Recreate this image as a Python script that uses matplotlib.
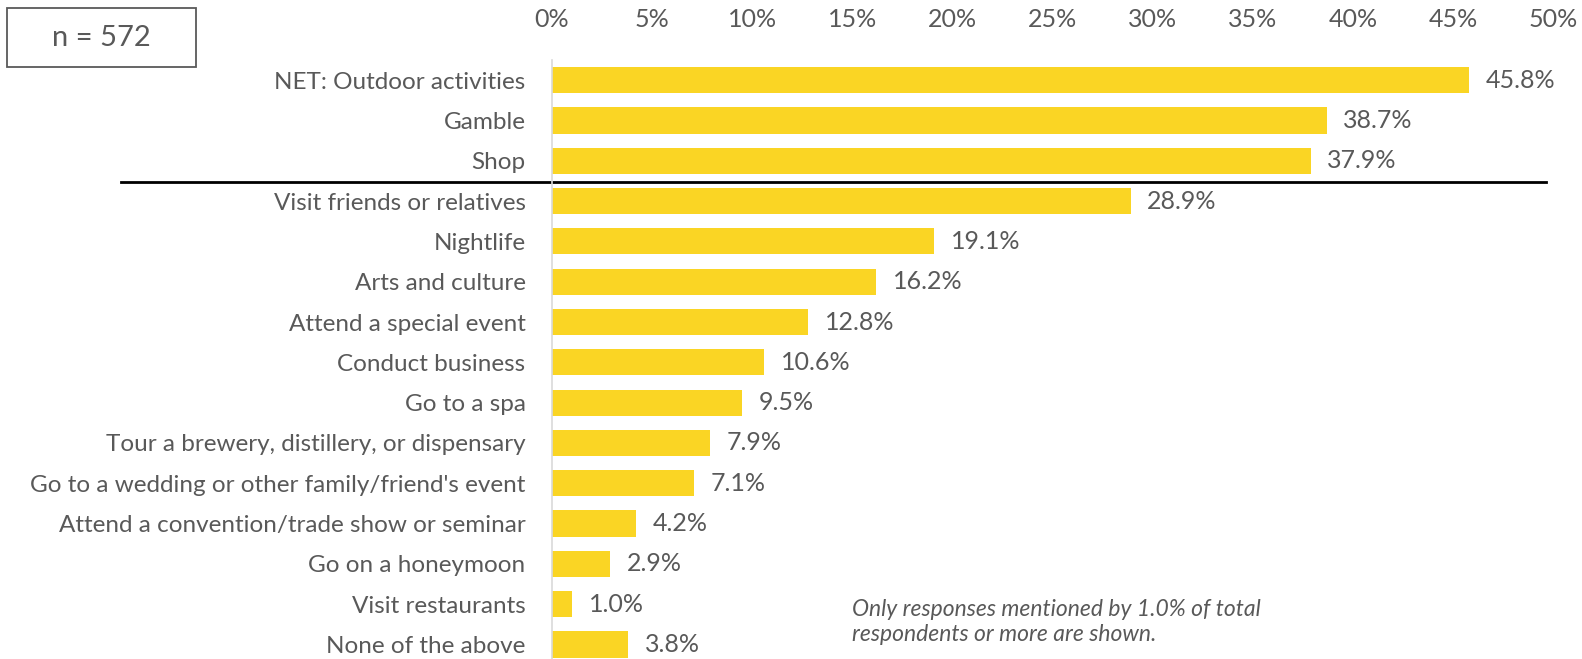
# Reasons for visiting - horizontal bar chart
import matplotlib
matplotlib.use("Agg")
import matplotlib.pyplot as plt
from matplotlib.patches import Rectangle
from matplotlib.transforms import blended_transform_factory

# Data
categories = [
    "NET: Outdoor activities",
    "Gamble",
    "Shop",
    "Visit friends or relatives",
    "Nightlife",
    "Arts and culture",
    "Attend a special event",
    "Conduct business",
    "Go to a spa",
    "Tour a brewery, distillery, or dispensary",
    "Go to a wedding or other family/friend's event",
    "Attend a convention/trade show or seminar",
    "Go on a honeymoon",
    "Visit restaurants",
    "None of the above",
]
values = [45.8, 38.7, 37.9, 28.9, 19.1, 16.2, 12.8, 10.6, 9.5, 7.9, 7.1, 4.2, 2.9, 1.0, 3.8]
x_ticks = [0, 5, 10, 15, 20, 25, 30, 35, 40, 45, 50]
sample_text = "n = 572"
note_text = "Only responses mentioned by 1.0% of total\nrespondents or more are shown."

bar_color = "#FAD524"
text_color = "#595959"

plt.rcParams["font.family"] = ["Lato", "DejaVu Sans"]

fig = plt.figure(figsize=(15.82, 6.59), dpi=100)
ax = fig.add_axes([552 / 1582, 0, (1553 - 552) / 1582, 599 / 659])

y = list(range(len(categories)))
ax.barh(y, values, height=0.65, color=bar_color)

for yi, v in zip(y, values):
    ax.annotate(f"{v:.1f}%", (v, yi), xytext=(12, 0), textcoords="offset points",
                va="center", ha="left", fontsize=18, color=text_color)

ax.set_xlim(0, 50)
ax.set_ylim(14.36, -0.5)
ax.set_yticks(y)
ax.set_yticklabels(categories)
ax.set_xticks(x_ticks)
ax.set_xticklabels([f"{t}%" for t in x_ticks])
ax.xaxis.tick_top()
ax.tick_params(axis="x", length=0, pad=21, labelsize=18, labelcolor=text_color)
ax.tick_params(axis="y", length=0, pad=19, labelsize=17.5, labelcolor=text_color)

for side in ["top", "right", "bottom"]:
    ax.spines[side].set_visible(False)
ax.spines["left"].set_color("#D9D9D9")
ax.spines["left"].set_linewidth(1.2)

# separator under the top three items
trans = blended_transform_factory(fig.transFigure, ax.transData)
ax.plot([121 / 1582, 1546 / 1582], [2.53, 2.53], transform=trans,
        color="black", linewidth=2, clip_on=False)

# sample size box
fig.add_artist(Rectangle((7 / 1582, 1 - 67 / 659), 189 / 1582, 59 / 659,
                         transform=fig.transFigure, fill=False,
                         edgecolor=text_color, linewidth=1.3))
fig.text(101 / 1582, 1 - 38 / 659, sample_text, ha="center", va="center",
         fontsize=21, color=text_color)

fig.text(852 / 1582, 1 - 622 / 659, note_text, ha="left", va="center",
         fontsize=16.5, style="italic", color=text_color, linespacing=1.2)

fig.savefig("out.png", dpi=100)
